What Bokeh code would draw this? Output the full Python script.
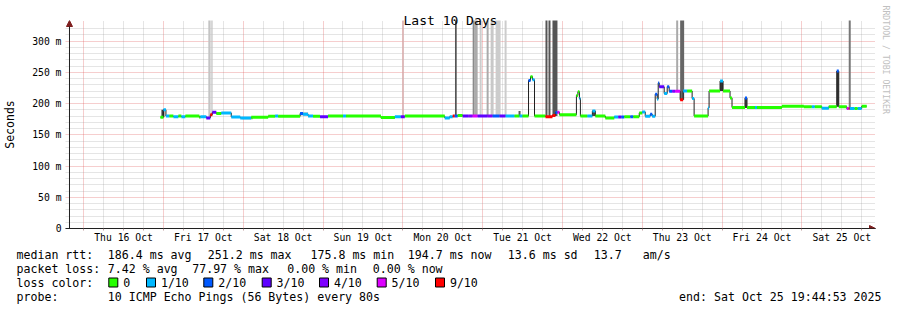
import pandas as pd
from bokeh.plotting import figure
from bokeh.layouts import column
from bokeh.models import (Range1d, FixedTicker, Arrow, NormalHead, Title,
                          ColumnDataSource, DatetimeTickFormatter)
from bokeh.core.properties import value
from bokeh.embed import file_html
from bokeh.resources import INLINE

# ---------------- data ----------------
median_time = [
    "2025-10-16 23:06", "2025-10-17 00:00", "2025-10-17 00:45", "2025-10-17 01:48",
    "2025-10-17 03:00", "2025-10-17 04:30", "2025-10-17 05:24", "2025-10-17 06:36",
    "2025-10-17 10:48", "2025-10-17 11:06", "2025-10-17 12:54", "2025-10-17 14:06",
    "2025-10-17 14:42", "2025-10-17 15:54", "2025-10-17 17:24", "2025-10-17 20:24",
    "2025-10-17 23:06", "2025-10-18 02:24", "2025-10-18 07:30", "2025-10-18 09:36",
    "2025-10-18 10:30", "2025-10-18 17:06", "2025-10-18 18:00", "2025-10-18 19:30",
    "2025-10-18 21:00", "2025-10-18 23:06", "2025-10-19 01:30", "2025-10-19 06:00",
    "2025-10-19 06:54", "2025-10-19 17:24", "2025-10-19 21:36", "2025-10-19 23:24",
    "2025-10-20 00:36", "2025-10-20 12:36", "2025-10-20 14:06", "2025-10-20 15:00",
    "2025-10-20 15:36", "2025-10-20 16:30", "2025-10-20 18:00", "2025-10-20 19:48",
    "2025-10-20 21:00", "2025-10-20 22:30", "2025-10-21 01:30", "2025-10-21 03:00",
    "2025-10-21 05:06", "2025-10-21 06:54", "2025-10-21 09:36", "2025-10-21 11:06",
    "2025-10-21 12:00", "2025-10-21 13:48", "2025-10-21 14:24", "2025-10-21 15:00",
    "2025-10-21 15:36", "2025-10-21 18:54", "2025-10-21 21:00", "2025-10-21 21:54",
    "2025-10-21 22:30", "2025-10-21 23:06", "2025-10-22 04:12", "2025-10-22 04:39",
    "2025-10-22 05:06", "2025-10-22 05:24", "2025-10-22 07:30", "2025-10-22 09:00",
    "2025-10-22 09:54", "2025-10-22 12:54", "2025-10-22 15:36", "2025-10-22 16:48",
    "2025-10-22 17:42", "2025-10-22 18:36", "2025-10-22 20:24", "2025-10-22 21:18",
    "2025-10-22 23:06", "2025-10-23 00:00", "2025-10-23 00:54", "2025-10-23 02:24",
    "2025-10-23 03:00", "2025-10-23 03:54", "2025-10-23 04:30", "2025-10-23 04:48",
    "2025-10-23 05:06", "2025-10-23 06:36", "2025-10-23 07:30", "2025-10-23 08:06",
    "2025-10-23 09:00", "2025-10-23 09:54", "2025-10-23 11:24", "2025-10-23 12:18",
    "2025-10-23 13:30", "2025-10-23 15:00", "2025-10-23 15:36", "2025-10-23 19:48",
    "2025-10-23 20:06", "2025-10-23 23:24", "2025-10-24 00:18", "2025-10-24 02:24",
    "2025-10-24 03:00", "2025-10-24 06:54", "2025-10-24 07:30", "2025-10-24 09:54",
    "2025-10-24 10:30", "2025-10-24 18:00", "2025-10-25 00:36", "2025-10-25 03:00",
    "2025-10-25 03:54", "2025-10-25 06:00", "2025-10-25 08:06", "2025-10-25 10:30",
    "2025-10-25 11:06", "2025-10-25 13:30", "2025-10-25 14:06", "2025-10-25 14:24",
    "2025-10-25 15:54", "2025-10-25 16:48", "2025-10-25 18:00",
]
median_ms = [
    178, 190, 180, 180, 179, 180, 179, 180, 178, 179, 177, 182,
    186, 184, 185, 178.5, 177, 178, 179.5, 180, 179.5, 184, 183, 180,
    179.7, 179, 180, 180, 180, 177.6, 179, 179, 180, 177, 179, 180,
    180, 181, 180, 180, 180, 180, 180, 180, 180, 180, 180, 180,
    180, 237, 243, 238, 180, 179, 181, 185.6, 186, 182, 213, 219,
    208, 180, 180, 188, 180, 177, 178.6, 178.6, 178.6, 179, 179, 179,
    185, 186.6, 179.7, 183, 179.7, 215, 207, 233, 226.7, 216, 227, 219.8,
    219.8, 219.8, 206, 220, 220, 208, 180, 193, 220, 236, 220, 209,
    193.6, 209, 193.6, 193.6, 193.6, 195.7, 195, 195, 195, 192.5, 195, 252,
    195, 192, 192, 192, 192, 192, 195.7,
]
median_loss = [  # lost pings out of 10
    0, 1, 1, 0, 1, 0, 1, 0, 0, 1, 3, 9,
    3, 0, 1, 1, 1, 0, 0, 1, 0, 2, 1, 1,
    0, 3, 0, 1, 0, 0, 1, 3, 0, 1, 1, 9,
    2, 0, 3, 4, 5, 3, 4, 2, 3, 1, 0, 1,
    0, 2, 0, 1, 0, 9, 9, 2, 5, 0, 0, 0,
    1, 0, 1, 1, 0, 0, 1, 3, 2, 0, 2, 0,
    0, 1, 1, 2, 1, 2, 1, 2, 3, 1, 2, 2,
    4, 5, 9, 1, 0, 1, 0, 1, 0, 1, 0, 0,
    0, 2, 0, 1, 0, 0, 0, 1, 0, 1, 0, 2,
    0, 5, 9, 1, 0, 1, 0,
]
last_sample_time = "2025-10-25 19:30"

# smoke (spread of the individual pings)
smoke_start = ["2025-10-16 23:24", "2025-10-17 13:30", "2025-10-17 14:24", "2025-10-17 23:42",
               "2025-10-18 17:06", "2025-10-19 17:24", "2025-10-19 23:51", "2025-10-20 15:41",
               "2025-10-20 21:00", "2025-10-20 21:36", "2025-10-20 23:06", "2025-10-21 01:12",
               "2025-10-21 02:24", "2025-10-21 03:54", "2025-10-21 06:36", "2025-10-21 10:48",
               "2025-10-21 18:54", "2025-10-21 19:48", "2025-10-21 21:00", "2025-10-22 09:00",
               "2025-10-23 10:12", "2025-10-23 11:24", "2025-10-23 23:24", "2025-10-24 06:54",
               "2025-10-25 10:30", "2025-10-25 14:06"]
smoke_end = ["2025-10-17 00:18", "2025-10-17 14:11", "2025-10-17 14:47", "2025-10-18 02:54",
             "2025-10-18 19:30", "2025-10-19 21:36", "2025-10-20 00:18", "2025-10-20 16:12",
             "2025-10-20 21:36", "2025-10-20 22:30", "2025-10-20 23:42", "2025-10-21 01:48",
             "2025-10-21 03:18", "2025-10-21 05:24", "2025-10-21 07:12", "2025-10-21 11:24",
             "2025-10-21 19:30", "2025-10-21 20:24", "2025-10-21 22:30", "2025-10-22 09:54",
             "2025-10-23 10:48", "2025-10-23 12:36", "2025-10-24 00:18", "2025-10-24 07:30",
             "2025-10-25 11:06", "2025-10-25 14:42"]
smoke_low = [178, 178, 180, 175, 181, 175.5, 179, 180,
             180, 180, 180, 180, 180, 180, 180, 180,
             179, 179, 180, 180, 220, 206, 220, 193,
             195, 192]
smoke_high = [190, 500, 500, 177.5, 186, 177.6, 500, 500,
              500, 500, 500, 500, 500, 500, 500, 188,
              500, 500, 500, 189, 500, 500, 236, 209,
              252, 500]
smoke_shade = ["#404040", "#c4c4c4", "#c4c4c4", "#9a9a9a", "#bdbdbd", "#8c8c8c", "#d7b0b0", "#555555",
               "#8a8a8a", "#ababab", "#cccccc", "#aaaaaa", "#c8c8c8", "#cccccc", "#cccccc", "#5a5a5a",
               "#555555", "#555555", "#555555", "#444444", "#aaaaaa", "#666666", "#333333", "#444444",
               "#333333", "#777777"]

loss_levels = [0, 1, 2, 3, 4, 5, 9]
loss_labels = ["0", "1/10", "2/10", "3/10", "4/10", "5/10", "9/10"]
loss_palette = ["#26ff00", "#00b8ff", "#0059ff", "#5e00ff", "#7e00ff", "#dd00ff", "#ff0000"]

y_ticks = [0, 50, 100, 150, 200, 250, 300]
y_tick_labels = ["0", "50 m", "100 m", "150 m", "200 m", "250 m", "300 m"]
day_labels_at = ["2025-10-%02d 12:00" % d for d in range(16, 26)]

rtt_stats = ["186.4 ms avg", "251.2 ms max", "175.8 ms min", "194.7 ms now", "13.6 ms sd", "13.7", "am/s"]
loss_stats = ["7.42 % avg", "77.97 % max", "0.00 % min", "0.00 % now"]
probe_text = "10 ICMP Echo Pings (56 Bytes) every 80s"
end_text = "end: Sat Oct 25 19:44:53 2025"
title_text = "Last 10 Days"
credit_text = "RRDTOOL / TOBI OETIKER"

graph_end = pd.Timestamp("2025-10-25 19:44:53")
graph_start = graph_end - pd.Timedelta(days=10)

# ---------------- layout constants (canvas pixels) ----------------
W, H = 897, 310
F_LEFT, F_RIGHT, F_TOP, F_BOTTOM = 63, 875, 20, 228     # plot frame
AX_LEFT = 67                                              # where the time axis starts
MAIN_H = 245                                              # main figure height, rest is the legend strip
PX_PER_DAY = 80.0
PX_PER_MS = 187.5 / 300.0
MONO = "DejaVu Sans Mono"
TXT = "11.6px"

x_lo = graph_start - pd.Timedelta(days=(AX_LEFT - F_LEFT) / PX_PER_DAY)
x_hi = graph_end + pd.Timedelta(days=(F_RIGHT - (AX_LEFT + 10 * PX_PER_DAY)) / PX_PER_DAY)
y_hi = (F_BOTTOM - F_TOP) / PX_PER_MS

p = figure(width=W, height=MAIN_H, output_backend="svg", toolbar_location=None,
           x_axis_type="datetime",
           x_range=Range1d(x_lo, x_hi), y_range=Range1d(0, y_hi),
           min_border_left=F_LEFT, min_border_right=W - F_RIGHT,
           min_border_top=F_TOP, min_border_bottom=MAIN_H - F_BOTTOM)
p.outline_line_color = None
p.background_fill_color = "white"
p.border_fill_color = "white"
p.frame_align = False

def ms(ts):
    return pd.Timestamp(ts).value // 10**6

# x axis / grid
noons = [ms(t) for t in day_labels_at]
midnights = [ms("2025-10-%02d 00:00" % d) for d in range(16, 26)]
six_h = [ms(pd.Timestamp("2025-10-15 18:00") + pd.Timedelta(hours=6 * k)) for k in range(0, 42)]
six_h = [t for t in six_h if t not in midnights]

p.xaxis.ticker = FixedTicker(ticks=noons, minor_ticks=six_h + midnights)
fmt = "%a %d %b"
p.xaxis.formatter = DatetimeTickFormatter(hours=fmt, days=fmt, months=fmt, years=fmt, minutes=fmt,
                                          hourmin=fmt, minsec=fmt, seconds=fmt, milliseconds=fmt,
                                          microseconds=fmt)
p.xaxis.major_tick_line_color = None
p.xaxis.major_tick_out = 0
p.xaxis.major_tick_in = 0
p.xaxis.minor_tick_out = 2
p.xaxis.minor_tick_in = 0
p.xaxis.minor_tick_line_color = "#c0a0a0"
p.xaxis.major_label_standoff = 1
p.xaxis.major_label_text_font = MONO
p.xaxis.major_label_text_font_size = "9.75px"
p.xaxis.major_label_text_color = "black"
p.xaxis.axis_line_color = "#202020"

p.xgrid.ticker = FixedTicker(ticks=midnights, minor_ticks=six_h)
p.xgrid.grid_line_color = "#e05a5a"
p.xgrid.grid_line_alpha = 0.6
p.xgrid.grid_line_dash = "1 1"
p.xgrid.minor_grid_line_color = "#9a9a9a"
p.xgrid.minor_grid_line_alpha = 0.5
p.xgrid.minor_grid_line_dash = "1 1"

# y axis / grid (the visible axis line is drawn by the arrow at the graph start)
minor_y = [v for v in range(10, 330, 10) if v % 50 != 0]
p.yaxis.ticker = FixedTicker(ticks=y_ticks, minor_ticks=minor_y)
p.yaxis.major_label_overrides = {t: l for t, l in zip(y_ticks, y_tick_labels)}
p.yaxis.major_label_text_font = MONO
p.yaxis.major_label_text_font_size = "9.75px"
p.yaxis.major_label_text_color = "black"
p.yaxis.major_tick_out = 0
p.yaxis.major_tick_in = 0
p.yaxis.minor_tick_out = 0
p.yaxis.minor_tick_in = 0
p.yaxis.major_label_standoff = 4
p.yaxis.axis_line_color = None
p.yaxis.axis_label = "Seconds"
p.yaxis.axis_label_text_font = MONO
p.yaxis.axis_label_text_font_size = "11.5px"
p.yaxis.axis_label_text_font_style = "normal"
p.yaxis.axis_label_text_color = "black"
p.yaxis.axis_label_standoff = 12

p.ygrid.ticker = FixedTicker(ticks=y_ticks[1:], minor_ticks=minor_y)
p.ygrid.grid_line_color = "#e05a5a"
p.ygrid.grid_line_alpha = 0.6
p.ygrid.grid_line_dash = "1 1"
p.ygrid.minor_grid_line_color = "#9a9a9a"
p.ygrid.minor_grid_line_alpha = 0.5
p.ygrid.minor_grid_line_dash = "1 1"

# ---------------- glyphs ----------------
smoke = ColumnDataSource(dict(left=pd.to_datetime(smoke_start), right=pd.to_datetime(smoke_end),
                              bottom=smoke_low, top=smoke_high, color=smoke_shade))
p.quad(left="left", right="right", bottom="bottom", top="top", fill_color="color",
       line_color=None, source=smoke)

t = pd.to_datetime(median_time + [last_sample_time])
p.step(x=t, y=median_ms + [median_ms[-1]], mode="after", line_color="#202020", line_width=1)

color_of = dict(zip(loss_levels, loss_palette))
seg = ColumnDataSource(dict(x0=t[:-1], x1=t[1:], y=median_ms,
                            color=[color_of[l] for l in median_loss]))
p.segment(x0="x0", y0="y", x1="x1", y1="y", line_color="color", line_width=3,
          line_cap="butt", source=seg)

# axes with arrow heads
AXC, ARC = "#202020", "#7f1f1f"
p.add_layout(Arrow(end=NormalHead(size=6, fill_color=ARC, line_color=ARC, line_width=1),
                   x_start=graph_start, y_start=0, x_end=graph_start, y_end=y_hi,
                   line_color=AXC, line_width=1))
p.add_layout(Arrow(end=NormalHead(size=6, fill_color=ARC, line_color=ARC, line_width=1),
                   x_start=x_lo, y_start=0, x_end=x_hi, y_end=0,
                   line_color=AXC, line_width=1))

# title and credit in the side panels
p.add_layout(Title(text=title_text, align="left", offset=401 - F_LEFT, standoff=-14,
                   text_font=MONO, text_font_size="13px", text_font_style="normal",
                   text_color="black"), "above")
p.add_layout(Title(text=credit_text, align="left", offset=5 - F_TOP, standoff=10,
                   text_font=MONO, text_font_size="8.2px", text_font_style="normal",
                   text_color="#c0c0c0"), "right")

# ---------------- legend strip below the graph (canvas pixel coordinates) ----------------
s = figure(width=W, height=H - MAIN_H, output_backend="svg", toolbar_location=None,
           x_range=Range1d(0, W), y_range=Range1d(H, MAIN_H),
           x_axis_location=None, y_axis_location=None, min_border=0)
s.outline_line_color = None
s.grid.visible = False
s.background_fill_color = "white"
s.border_fill_color = "white"
s.frame_align = False

ROW = [254, 268, 282, 296]
rtt_x = [107.3, 207.3, 310, 407.3, 507.3, 593.3, 642.3]
loss_x = [107.3, 191.7, 286.7, 372.3]
box_x = [108.3, 146, 203.3, 261.7, 319, 376.7, 435]

txt_x = [16, 16, 16, 16, 107.3] + rtt_x + loss_x + [b + 14.4 for b in box_x]
txt_y = ROW + [ROW[3]] + [ROW[0]] * len(rtt_x) + [ROW[1]] * len(loss_x) + [ROW[2]] * len(box_x)
txt_s = ["median rtt:", "packet loss:", "loss color:", "probe:", probe_text] + rtt_stats + loss_stats + loss_labels
s.text(x=txt_x, y=txt_y, text=txt_s, text_font=value(MONO), text_font_size=value(TXT),
       text_baseline="middle", text_align="left", text_color="black")
s.text(x=[881], y=[ROW[3]], text=[end_text], text_font=value(MONO), text_font_size=value(TXT),
       text_baseline="middle", text_align="right", text_color="black")
s.quad(left=box_x, right=[b + 9 for b in box_x], top=[ROW[2] - 4.5] * len(box_x),
       bottom=[ROW[2] + 4.5] * len(box_x), fill_color=loss_palette, line_color="black", line_width=1)

layout = column(p, s, spacing=0)
open("out.html", "w").write(file_html(layout, INLINE))
